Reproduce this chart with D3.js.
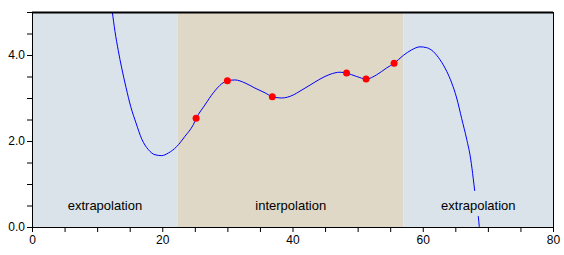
<!DOCTYPE html>
<html>
<head>
<meta charset="utf-8">
<script src="https://cdn.jsdelivr.net/npm/d3@7"></script>
<style>
  body { margin: 0; background: #fff; }
  text { font-family: Arial, "Liberation Sans", sans-serif; }
</style>
</head>
<body>
<svg id="chart" width="564" height="255"></svg>
<script>
// regions
const regionNames = ["extrapolation", "interpolation", "extrapolation"];
const regionStart = [0, 22.4, 57.05];
const regionEnd = [22.4, 57.05, 80];

// measured points
const pointX = [25.2, 30.0, 36.9, 48.3, 51.3, 55.6];
const pointY = [2.53, 3.40, 3.03, 3.58, 3.44, 3.81];

// fitted curve
const curveX = [12.1, 12.33, 12.74, 13.25, 13.77, 14.43, 15.16, 15.97, 16.84, 17.86, 18.89, 19.92, 20.93, 22.22, 23.49, 24.77,
                25.23, 26.56, 27.84, 29.13, 29.99, 31.17, 32.71, 34.24, 35.78, 36.9, 38.34, 40.12, 41.15, 42.69,
                44.22, 45.76, 47.29, 48.26, 49.86, 51.33, 52.93, 54.46, 55.63, 57.01, 58.3, 59.58, 60.61, 61.62,
                62.65, 63.68, 64.45, 65.21, 65.98, 66.75, 67.36, 67.76, 67.98, 68.53, 68.68, 68.75];
const curveY = [5.25, 5.0, 4.55, 4.10, 3.70, 3.25, 2.80, 2.42, 2.05, 1.80, 1.68, 1.66, 1.72, 1.87, 2.11, 2.38,
                2.53, 2.84, 3.12, 3.33, 3.40, 3.42, 3.35, 3.23, 3.12, 3.03, 3.00, 3.07, 3.16, 3.30,
                3.44, 3.55, 3.60, 3.58, 3.50, 3.44, 3.54, 3.70, 3.81, 3.99, 4.12, 4.19, 4.17, 4.08,
                3.89, 3.62, 3.35, 3.00, 2.52, 2.04, 1.58, 1.12, 0.84, 0.25, 0.01, -0.1];

const xTicks = [0, 20, 40, 60, 80];
const yTicks = [0, 2, 4];

const regionColors = ["#d9e3e9", "#e0d8c6", "#d9e3e9"];

var margin = {top: 12, right: 11, bottom: 28, left: 32},
    width = 564 - margin.left - margin.right,
    height = 255 - margin.top - margin.bottom;

const svg = d3.select("#chart")
  .append("g")
  .attr("transform", "translate(" + margin.left + "," + margin.top + ")");

const x = d3.scaleLinear().domain([0, 80]).range([0, width]);
const y = d3.scaleLinear().domain([0, 5]).range([height, 0]);

svg.append("clipPath").attr("id", "plotclip")
   .append("rect").attr("width", width).attr("height", height);

// shaded regions
svg.selectAll(".region")
   .data(regionNames)
   .enter()
   .append("rect")
   .attr("class", "region")
   .attr("x", (d, i) => x(regionStart[i]))
   .attr("width", (d, i) => x(regionEnd[i]) - x(regionStart[i]))
   .attr("y", 0)
   .attr("height", height)
   .attr("fill", (d, i) => regionColors[i]);

// curve
const line = d3.line()
  .x((d, i) => x(curveX[i]))
  .y((d, i) => y(curveY[i]))
  .curve(d3.curveMonotoneX);

svg.append("path")
   .datum(curveX)
   .attr("clip-path", "url(#plotclip)")
   .attr("d", line)
   .attr("fill", "none")
   .attr("stroke", "#0000ff")
   .attr("stroke-width", 1);

// region labels with background box
const labels = svg.selectAll(".rlabel")
  .data(regionNames)
  .enter()
  .append("g")
  .attr("class", "rlabel")
  .attr("transform", (d, i) => "translate(" + x((regionStart[i] + regionEnd[i]) / 2) + "," + (height - 17) + ")");

labels.append("text")
  .attr("text-anchor", "middle")
  .attr("font-size", 13)
  .text(d => d)
  .each(function(d, i) {
    var bb = this.getBBox();
    d3.select(this.parentNode).insert("rect", "text")
      .attr("x", bb.x - 3)
      .attr("y", -19)
      .attr("width", bb.width + 6)
      .attr("height", 25)
      .attr("fill", regionColors[i]);
  });

// points
svg.selectAll(".pt")
   .data(pointX)
   .enter()
   .append("circle")
   .attr("class", "pt")
   .attr("cx", (d, i) => x(pointX[i]))
   .attr("cy", (d, i) => y(pointY[i]))
   .attr("r", 3.5)
   .attr("fill", "#ff0000");

// frame
svg.append("line").attr("x1", 0).attr("x2", width).attr("y1", 0.5).attr("y2", 0.5)
   .attr("stroke", "black").attr("stroke-width", 2);
svg.append("line").attr("x1", width + 0.5).attr("x2", width + 0.5).attr("y1", 0).attr("y2", height)
   .attr("stroke", "black");

// axes
const xAxis = svg.append("g")
  .attr("transform", "translate(0," + height + ")")
  .call(d3.axisBottom(x).tickValues(d3.range(0, 81, 5)).tickSize(5)
        .tickFormat(d => xTicks.includes(d) ? d : ""));
const yAxis = svg.append("g")
  .call(d3.axisLeft(y).tickValues(d3.range(0, 5.01, 0.5)).tickSize(5)
        .tickFormat(d => yTicks.includes(d) ? d3.format(".1f")(d) : ""));

[xAxis, yAxis].forEach(a => {
  a.select(".domain").attr("stroke", "black");
  a.selectAll("line").attr("stroke", "black");
  a.selectAll("text").attr("fill", "black").attr("font-size", 12)
   .attr("font-family", "Arial, 'Liberation Sans', sans-serif");
});
yAxis.selectAll("text").attr("x", -7);
xAxis.selectAll("text").attr("y", 8);
</script>
</body>
</html>
